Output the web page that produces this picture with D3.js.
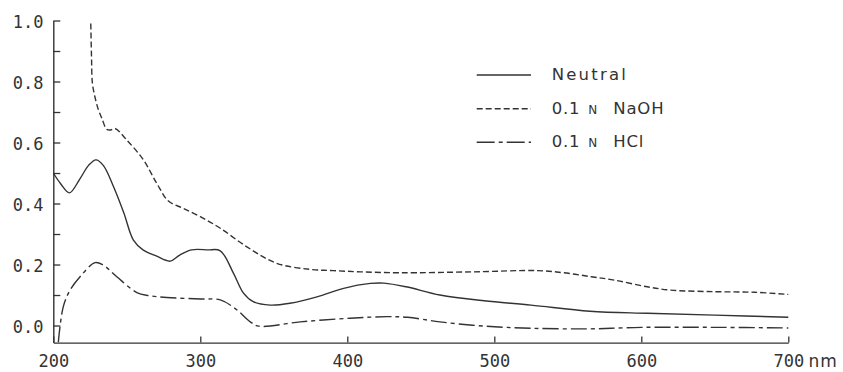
<!DOCTYPE html>
<html>
<head>
<meta charset="utf-8">
<script src="https://cdn.jsdelivr.net/npm/d3@7"></script>
<style>
  html, body { margin: 0; padding: 0; background: #fff; }
  svg { display: block; }
</style>
</head>
<body>
<svg id="chart" width="843" height="372"></svg>
<script>
// ---- data (wavelength nm, absorbance) ----
const neutralNm  = [200, 205, 211, 218, 224, 229, 234, 241, 248, 254.5, 261, 270, 279.5, 286, 294, 305, 313.6, 322.6, 329.4, 336, 347.6, 361, 379.4, 397.5, 415.7, 425, 440, 463, 493, 525, 565, 604, 650, 700];
const neutralAbs = [0.50, 0.465, 0.435, 0.48, 0.525, 0.543, 0.525, 0.455, 0.369, 0.28, 0.248, 0.228, 0.211, 0.231, 0.248, 0.248, 0.245, 0.171, 0.106, 0.078, 0.067, 0.073, 0.094, 0.122, 0.138, 0.139, 0.127, 0.10, 0.081, 0.067, 0.047, 0.040, 0.034, 0.027];

const naohNm  = [225.5, 226, 226.6, 228.3, 230.7, 233, 236.4, 239, 242, 250, 261.3, 270.4, 278.3, 288, 300, 313.6, 331.7, 352, 374.9, 390.7, 409, 436, 486, 529, 547, 566, 581.5, 604, 620, 650, 677, 700];
const naohAbs = [0.99, 0.88, 0.794, 0.75, 0.707, 0.68, 0.643, 0.641, 0.646, 0.608, 0.543, 0.466, 0.408, 0.385, 0.357, 0.319, 0.258, 0.204, 0.184, 0.18, 0.176, 0.173, 0.176, 0.18, 0.173, 0.16, 0.149, 0.127, 0.116, 0.111, 0.109, 0.102];

const hclNm  = [203.4, 206.8, 211.4, 218.2, 228.4, 234, 243.2, 256.8, 265, 277.2, 300, 313.6, 325, 334, 339.7, 368, 402, 427, 441, 463, 493, 525, 565, 600, 650, 700];
const hclAbs = [-0.056, 0.062, 0.116, 0.16, 0.206, 0.198, 0.16, 0.108, 0.098, 0.092, 0.087, 0.084, 0.051, 0.012, -0.002, 0.012, 0.024, 0.029, 0.027, 0.012, -0.002, -0.009, -0.011, -0.006, -0.006, -0.008];

const xTicks = [200, 300, 400, 500, 600, 700];
const yTicks = [0, 0.1, 0.2, 0.3, 0.4, 0.5, 0.6, 0.7, 0.8, 0.9, 1.0];
const yLabelTicks = [0, 0.2, 0.4, 0.6, 0.8, 1.0];
const seriesNames = ["Neutral", "NaOH", "HCl"];

// ---- layout ----
const ink = "#333";
const svg = d3.select("#chart");
const x = d3.scaleLinear().domain([200, 700]).range([53.3, 788.3]);
const y = d3.scaleLinear().domain([-0.056, 1.0]).range([342.6, 20.5]);

const monoFont = "'DejaVu Sans Mono', 'Liberation Mono', monospace";
const sansFont = "'DejaVu Sans', 'Noto Sans', sans-serif";

// y axis
const yAxis = svg.append("g")
  .attr("transform", `translate(${x(200)},0)`)
  .call(d3.axisLeft(y).tickValues(yTicks).tickSizeInner(-7).tickSizeOuter(0)
    .tickFormat(d => yLabelTicks.some(v => Math.abs(v - d) < 1e-9) ? d3.format(".1f")(d) : ""));
yAxis.select(".domain").attr("stroke", ink).attr("stroke-width", 1.4);
yAxis.selectAll(".tick line").attr("stroke", ink).attr("stroke-width", 1.3);
yAxis.selectAll(".tick text")
  .attr("x", -(x(200) - 43.5)).attr("dy", "0.42em")
  .attr("fill", ink).style("font-family", monoFont).style("font-size", "17px");

// x axis
const xAxis = svg.append("g")
  .attr("transform", `translate(0,${y(-0.056)})`)
  .call(d3.axisBottom(x).tickValues(xTicks).tickSizeInner(-6).tickSizeOuter(0).tickFormat(d3.format("d")));
xAxis.select(".domain").attr("stroke", ink).attr("stroke-width", 1.4);
xAxis.selectAll(".tick line").attr("stroke", ink).attr("stroke-width", 1.3);
xAxis.selectAll(".tick text")
  .attr("y", 24.2).attr("dy", 0)
  .attr("fill", ink).style("font-family", monoFont).style("font-size", "17px");

svg.append("text")
  .attr("x", 808.5).attr("y", y(-0.056) + 24.2)
  .attr("fill", ink).style("font-family", sansFont).style("font-size", "17px")
  .style("letter-spacing", "1px")
  .text("nm");

// ---- curves ----
const line = d3.line()
  .x(d => x(d[0])).y(d => y(d[1]))
  .curve(d3.curveCatmullRom.alpha(0.5));

const series = [
  { nm: neutralNm, abs: neutralAbs, dash: null },
  { nm: naohNm, abs: naohAbs, dash: "6,3" },
  { nm: hclNm, abs: hclAbs, dash: "16,4,4,4" }
];

svg.append("clipPath").attr("id", "plotclip")
  .append("rect").attr("x", x(200)).attr("y", 0).attr("width", x(700) - x(200) + 2).attr("height", y(-0.056));

const plot = svg.append("g").attr("clip-path", "url(#plotclip)");
series.forEach(s => {
  plot.append("path")
    .datum(d3.zip(s.nm, s.abs))
    .attr("fill", "none")
    .attr("stroke", ink)
    .attr("stroke-width", 1.4)
    .attr("stroke-dasharray", s.dash)
    .attr("d", line);
});

// ---- legend ----
const legendRows = [
  { parts: [{ t: seriesNames[0], ls: "2.2px" }], base: 80, dash: null },
  { parts: [{ t: "0.1" }, { t: "N", small: true }, { t: seriesNames[1] }], base: 113.8, dash: "6,3" },
  { parts: [{ t: "0.1" }, { t: "N", small: true }, { t: seriesNames[2] }], base: 147.2, dash: "18,4,4,4" }
];
const partX = [551.7, 588.3, 613.3];
legendRows.forEach(r => {
  svg.append("line")
    .attr("x1", 476.7).attr("x2", 531)
    .attr("y1", r.base - 5).attr("y2", r.base - 5)
    .attr("stroke", ink).attr("stroke-width", 1.4)
    .attr("stroke-dasharray", r.dash);
  r.parts.forEach((p, i) => {
    svg.append("text")
      .attr("x", partX[i]).attr("y", r.base)
      .attr("fill", ink)
      .style("font-family", sansFont)
      .style("font-size", p.small ? "12px" : "16.5px")
      .style("letter-spacing", p.ls || (p.small ? "0px" : "0.8px"))
      .text(p.t);
  });
});
</script>
</body>
</html>
